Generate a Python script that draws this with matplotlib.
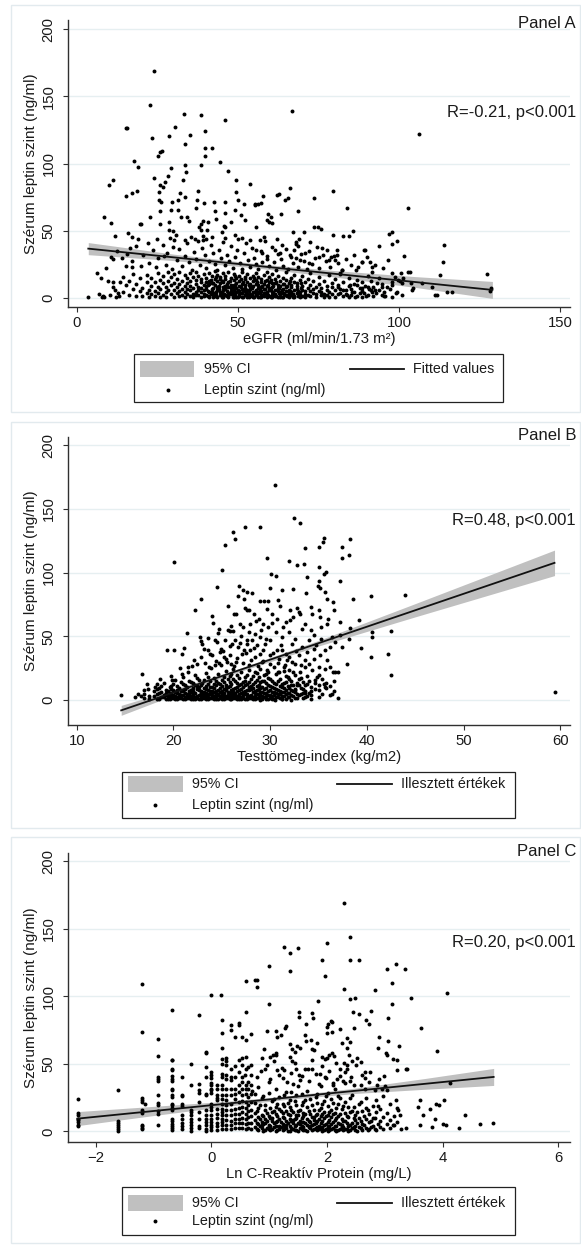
import numpy as np
import matplotlib
matplotlib.use("Agg")
import matplotlib.pyplot as plt
from matplotlib.patches import Rectangle

plt.rcParams["font.family"] = ["Liberation Sans", "DejaVu Sans"]

W, H = 581, 1247

# ---------------- Panel A: eGFR vs szérum leptin ----------------
a_sparse = [
    (23.9, 169), (22.6, 143.7), (15.1, 126.6), (15.4, 126.4), (33.2, 136.6), (38.5, 135.8),
    (45.9, 132.3), (30.3, 126.9), (23.3, 119.2), (28.7, 120.4), (35.0, 120.9), (39.7, 124.4),
    (33.4, 114.5), (26.4, 109.5), (25.8, 108.3), (25.0, 105.6), (39.6, 111.8), (41.9, 111.8),
    (39.8, 105.6), (17.7, 102.1), (18.8, 97.4), (33.4, 98.6), (29.3, 96.9), (38.4, 98.9),
    (44.5, 101.4), (33.9, 93.9), (46.8, 94.2), (9.8, 84.3), (11.1, 87.5), (23.8, 89.0),
    (28.4, 90.7), (27.4, 86.2), (25.7, 84.3), (26.7, 82.8), (32.9, 87.5), (37.5, 79.3),
    (15.1, 76.1), (17.0, 78.1), (18.7, 79.6), (25.6, 78.6), (25.6, 72.9), (26.0, 71.6),
    (32.1, 78.1), (29.5, 71.6), (31.3, 72.9), (33.4, 74.8), (37.4, 72.6), (39.5, 70.4),
    (42.5, 71.1), (45.9, 71.6), (49.5, 88.0), (53.8, 84.8), (49.3, 79.1), (49.9, 72.9),
    (51.9, 70.1), (55.2, 69.1), (56.2, 69.9), (8.3, 60.0), (10.4, 55.8), (11.7, 46.3),
    (22.7, 60.5), (25.8, 64.4), (29.2, 65.4), (31.4, 65.7), (32.3, 60.0), (34.3, 60.0),
    (34.9, 57.2), (36.9, 67.2), (37.9, 53.0), (38.4, 55.0), (39.2, 57.0), (40.6, 56.3),
    (42.9, 64.4), (43.3, 58.7), (45.9, 63.4), (45.8, 53.8), (47.9, 56.3), (49.1, 65.2),
    (50.9, 61.7), (52.1, 58.2), (19.6, 55.0), (19.9, 55.0), (25.7, 54.8), (28.6, 56.8),
    (29.8, 50.1), (30.7, 47.1), (28.5, 50.8), (33.6, 43.4), (35.3, 45.6), (38.6, 50.6),
    (40.4, 50.3), (39.1, 46.1), (40.1, 43.9), (42.0, 45.6), (44.9, 49.1), (45.9, 52.5),
    (49.1, 46.8), (51.3, 44.4), (53.7, 43.1), (55.6, 53.0),
    (66.7, 139.3), (106.1, 121.9), (66.0, 82.0), (62.2, 76.8), (62.7, 77.3), (57.8, 75.8),
    (55.3, 69.9), (57.0, 70.4), (64.6, 72.9), (65.4, 74.1), (73.5, 74.3), (79.6, 79.6),
    (68.6, 64.4), (63.2, 62.2), (59.4, 62.7), (60.1, 60.5), (60.7, 55.5), (59.1, 58.0),
    (59.6, 56.8), (84.0, 66.7), (102.9, 67.2), (73.7, 53.0), (74.9, 52.5), (75.9, 51.1),
    (67.2, 49.3), (70.5, 49.1), (79.4, 46.8), (82.7, 45.8), (84.4, 46.1), (85.6, 49.8),
    (97.0, 47.6), (97.9, 48.8), (99.3, 42.1), (97.7, 40.1), (93.8, 38.9), (101.4, 31.5),
    (114.1, 39.4), (113.7, 27.0), (103.5, 19.6), (112.6, 17.3), (116.4, 4.7), (111.2, 2.0),
    (100.2, 12.9), (104.1, 5.7), (97.2, 6.9), (97.8, 1.0), (94.8, 2.0), (89.1, 3.5),
    (90.6, 6.4), (127.3, 17.8), (128.5, 7.4), (128.2, 5.5),
    (56.7, 43.1), (55.5, 35.7), (57.3, 33.2), (58.9, 28.7), (61.5, 35.7), (63.0, 33.2),
    (63.8, 39.2), (66.2, 32.0), (67.4, 35.7), (68.0, 41.9), (67.9, 29.5), (68.6, 38.7),
    (69.3, 28.3), (70.8, 33.2), (71.9, 25.8), (74.6, 38.2), (75.2, 30.2), (76.3, 32.0),
    (77.5, 35.7), (78.3, 28.3), (79.0, 30.2), (80.1, 28.3), (80.6, 32.0), (80.6, 35.7),
    (81.6, 18.3), (82.4, 20.8), (86.0, 32.0), (87.4, 23.3), (88.4, 27.0), (89.5, 35.7),
    (91.0, 27.0), (91.5, 22.8), (91.7, 19.6), (97.7, 18.3), (98.8, 15.9), (99.8, 13.4),
    (100.8, 10.9), (103.7, 10.9), (104.4, 7.2), (107.0, 10.9), (110.1, 8.4), (111.7, 2.2),
    (115.0, 4.7), (97.7, 9.7), (94.6, 8.4), (93.1, 10.9), (92.5, 5.9), (90.5, 8.4),
    (88.4, 7.2), (86.9, 9.7), (85.3, 4.7), (83.7, 2.2), (82.7, 5.9), (81.2, 8.4),
    (84.8, 9.7), (86.3, 1.0), (89.9, 1.5), (91.5, 4.7), (95.7, 1.5), (99.3, 4.7),
    (100.8, 2.2), (101.3, 14.6), (102.9, 19.6), (89.1, 35.7), (100.5, 18.3),
    (3.5, 1.0), (7.5, 15.1), (8.0, 1.5), (7.7, 0.8), (8.5, 0.6), (11.1, 11.9), (11.1, 8.4),
    (12.1, 1.0), (13.0, 1.7), (9.7, 12.9), (13.5, 11.6), (11.7, 5.7), (15.2, 24.0),
    (17.0, 23.3), (11.1, 28.7), (17.0, 45.0), (15.8, 48.0), (6.8, 3.2), (10.2, 2.4),
    (12.8, 4.0), (9.0, 22.5), (6.2, 18.9), (10.6, 30.6),
    (15.5, 33.0), (17.2, 27.5), (18.4, 38.8), (19.8, 24.1), (20.6, 31.6), (21.9, 41.2),
    (22.5, 26.3), (23.7, 35.5), (24.4, 22.7), (25.3, 29.9), (26.8, 39.4), (27.5, 24.8),
    (28.1, 33.6), (29.4, 21.5), (30.2, 43.0), (31.0, 28.2), (31.8, 36.7), (32.7, 23.9),
    (33.5, 31.4), (34.1, 40.6), (34.9, 26.5), (35.6, 20.8), (36.2, 34.2), (36.9, 29.1),
    (37.7, 42.5), (38.3, 24.3), (38.9, 37.1), (39.6, 31.8), (40.2, 22.1), (40.9, 27.4),
    (41.5, 39.7), (42.1, 33.3), (42.8, 25.6), (43.4, 21.0), (44.0, 36.0), (44.7, 29.7),
    (45.3, 41.8), (45.9, 24.6), (46.6, 32.2), (47.2, 27.8), (47.9, 38.3), (48.5, 22.5),
    (49.2, 30.5), (49.8, 35.4), (50.5, 26.0), (51.1, 21.7), (51.8, 33.8), (52.4, 40.9),
    (53.1, 28.6), (53.7, 23.4), (54.4, 37.5), (55.0, 30.1), (55.7, 25.2), (56.3, 21.3),
    (57.0, 34.9), (57.6, 27.0), (58.3, 42.2), (59.0, 31.0), (59.7, 23.7), (60.4, 38.1),
    (61.1, 26.7), (61.8, 20.5), (62.5, 33.0), (63.2, 29.3), (64.0, 24.0), (64.8, 36.4),
    (65.5, 21.9), (66.3, 30.8), (67.0, 26.1), (67.9, 40.4), (68.7, 23.0), (69.6, 32.4),
    (70.4, 27.2), (71.3, 21.2), (72.1, 35.0), (73.0, 25.5), (74.0, 29.6), (75.1, 22.4),
    (76.2, 37.0), (77.4, 27.7), (78.6, 23.1), (79.9, 31.2), (81.0, 25.9), (82.3, 21.0),
    (83.5, 29.0), (85.0, 24.2), (86.7, 20.9), (88.5, 26.4), (90.2, 30.4), (92.5, 24.8),
    (95.0, 22.0), (96.5, 28.1), (12.4, 34.8), (14.0, 29.4), (16.3, 37.2), (18.9, 44.0),
    (24.9, 43.5), (28.8, 44.6), (27.0, 31.0), (29.9, 38.0), (36.5, 44.2), (39.0, 43.1),
    (46.0, 44.7), (50.1, 43.7), (58.0, 45.5), (62.0, 44.0), (69.0, 43.5), (72.5, 41.5),
]
# low-leptin bulk, grouped by eGFR
a_cols = [
    (14.2, [4.1, 15.8]), (15.3, [9.7]), (16.1, [2.3, 12.5]), (17.4, [6.8, 18.1]),
    (18.2, [1.2, 10.4]), (19.5, [4.9, 14.7]), (20.3, [7.6, 1.8]), (21.6, [11.9, 17.3, 3.5]),
    (22.4, [6.1, 0.9]), (23.1, [9.2, 15.1, 2.7]), (24.3, [5.3, 12.0, 1.3]),
    (25.0, [8.4, 18.8, 3.9]), (25.9, [0.6, 6.9, 13.6]), (26.7, [2.2, 10.8, 16.4]),
    (27.6, [4.6, 8.0, 1.0]), (28.3, [12.8, 6.2, 19.0]), (29.2, [2.9, 9.6, 15.5]),
    (30.1, [0.8, 5.7, 11.3, 17.8]), (30.9, [3.4, 7.9, 14.2]), (31.7, [1.6, 10.1, 19.6, 5.0]),
    (32.5, [6.6, 12.9, 2.4]), (33.4, [0.5, 8.8, 16.9, 4.3]), (34.2, [3.0, 11.2, 6.9, 14.8]),
    (35.1, [1.4, 9.1, 5.6, 18.3, 12.4]), (35.9, [2.8, 7.2, 15.9, 0.7]),
    (36.8, [4.7, 10.6, 13.5, 1.9, 19.2]), (37.6, [6.0, 8.5, 2.3, 16.6]),
    (38.5, [0.9, 11.8, 4.2, 14.1, 7.5]), (39.3, [3.1, 9.9, 17.5, 5.8, 1.2]),
    (40.2, [6.4, 12.2, 2.0, 15.2, 8.7]), (41.0, [0.6, 4.4, 10.3, 18.6, 13.0]),
    (41.9, [7.0, 2.6, 16.0, 5.1, 11.0]), (42.7, [1.5, 9.4, 14.4, 3.7, 19.8]),
    (43.6, [6.3, 12.6, 0.8, 8.1, 17.1]), (44.4, [2.1, 4.8, 10.9, 15.6, 13.8]),
    (45.3, [7.8, 1.0, 5.9, 11.6, 18.9, 3.2]), (46.1, [9.0, 14.0, 2.5, 6.7, 16.3]),
    (47.0, [0.7, 4.0, 12.1, 8.3, 19.4, 1.8]), (47.8, [5.4, 10.0, 15.0, 3.0, 7.2]),
    (48.7, [1.1, 13.3, 6.0, 17.6, 9.8, 2.6]), (49.5, [4.5, 11.4, 0.5, 7.7, 14.7]),
    (50.4, [2.9, 8.9, 16.7, 5.2, 12.3, 1.4]), (51.2, [6.8, 3.6, 10.5, 19.0, 0.9]),
    (52.1, [1.9, 9.3, 13.9, 4.9, 7.4, 15.8]), (52.9, [0.6, 5.8, 11.7, 2.8, 17.9]),
    (53.8, [8.0, 3.3, 14.5, 6.5, 1.2, 10.2]), (54.6, [4.2, 12.9, 0.8, 8.6, 16.2]),
    (55.5, [2.2, 6.1, 10.7, 18.4, 3.9, 13.2]), (56.3, [1.0, 7.3, 4.6, 15.3, 9.5]),
    (57.2, [5.5, 2.4, 11.9, 0.7, 8.2, 14.0]), (58.0, [3.4, 6.9, 17.0, 1.6, 10.4]),
    (58.9, [0.5, 4.8, 9.1, 13.6, 2.9, 19.3]), (59.7, [7.6, 1.3, 5.7, 12.0, 15.7]),
    (60.6, [2.0, 10.8, 4.1, 8.4, 18.0, 0.9]), (61.4, [6.3, 3.0, 14.3, 1.5, 11.3]),
    (62.3, [0.6, 5.0, 9.7, 16.5, 7.1]), (63.1, [2.7, 12.7, 4.4, 1.1, 8.9]),
    (64.0, [6.7, 3.6, 10.1, 15.0, 0.8]), (64.8, [1.9, 5.3, 13.1, 8.0, 19.5]),
    (65.7, [4.0, 0.7, 11.0, 6.2, 2.8]), (66.5, [7.9, 2.1, 14.8, 9.3, 4.7]),
    (67.4, [1.3, 5.9, 12.2, 0.5, 17.2]), (68.2, [3.5, 8.6, 6.6, 10.9]),
    (69.1, [0.9, 4.3, 13.7, 2.3]), (69.9, [6.0, 1.7, 9.0, 16.0]), (70.8, [3.0, 11.6, 5.2, 0.6]),
    (71.6, [7.3, 2.5, 14.1]), (72.5, [1.2, 4.9, 9.6, 18.7]), (73.3, [3.8, 6.8, 12.4]),
    (74.2, [0.8, 8.1, 2.9]), (75.0, [5.4, 10.6, 15.4]), (75.9, [1.9, 4.1, 7.7]),
    (76.7, [0.6, 12.8, 3.3]), (77.6, [6.1, 9.2, 2.0]), (78.4, [4.4, 16.8, 1.0]),
    (79.3, [7.8, 3.0, 11.1]), (80.1, [0.9, 5.6, 13.9]), (81.0, [2.6, 9.4]),
    (81.8, [4.0, 7.0, 18.2]), (82.7, [1.3, 12.0]), (83.5, [5.8, 3.1]), (84.4, [0.7, 8.8, 15.1]),
    (85.2, [2.4, 6.4]), (86.1, [10.3, 4.5]), (86.9, [1.5, 13.3]), (87.8, [7.5, 3.6]),
    (88.6, [0.8, 11.8, 5.0]), (89.5, [9.0]), (90.3, [2.3, 16.2]), (91.2, [5.7, 12.8]),
    (92.0, [1.2, 8.0]), (92.9, [3.9]), (93.7, [14.5, 6.3]), (94.6, [10.6]), (95.4, [4.6, 1.7]),
    (96.3, [7.9]), (97.9, [12.2]), (99.0, [3.4]),
    (40.6, [1.7, 9.5, 5.2]), (41.5, [3.0, 13.6]), (42.3, [0.5, 7.7, 11.4]),
    (43.2, [4.2, 2.1, 15.9]), (44.0, [6.9, 9.2]), (44.9, [0.8, 12.8, 4.6]), (45.7, [2.9, 8.2]),
    (46.6, [5.0, 10.7, 1.2]), (47.4, [3.5, 13.0]), (48.3, [0.6, 7.9, 4.0]),
    (49.1, [2.5, 9.7, 16.0]), (50.0, [5.6, 1.0]), (50.8, [3.8, 8.0, 14.2]),
    (51.7, [0.7, 6.0, 11.9]), (52.5, [2.8, 4.0]), (53.4, [9.7, 0.5, 5.3]), (54.2, [2.4, 7.2]),
    (55.1, [0.9, 4.7, 14.7]), (55.9, [2.8, 11.6]), (56.8, [6.2, 0.6, 3.6]), (57.6, [9.0, 1.9]),
    (58.5, [4.0, 12.6, 7.0]), (59.3, [2.5, 10.0]), (60.2, [0.6, 6.0, 13.3]), (61.0, [3.8, 8.7]),
    (61.9, [1.6, 11.9]), (62.7, [4.0, 7.6]), (63.6, [0.5, 5.8]), (64.4, [3.0, 10.4]),
    (65.2, [1.2, 8.6]), (66.1, [5.3, 12.6]), (67.0, [3.1, 0.8]), (68.6, [1.8, 5.0]),
    (69.5, [7.6, 11.5]),
]
a_fit_x = [3.5, 129.0]
a_fit_y = [36.7, 6.0]
a_ci_x = [3.5, 30, 55, 80, 105, 129]
a_ci_lo = [32.2, 27.8, 22.5, 15.6, 7.9, -0.3]
a_ci_hi = [41.2, 32.6, 25.7, 20.4, 15.9, 12.3]

# ---------------- Panel B: testtömeg-index vs leptin ----------------
b_sparse = [
    (14.6, 3.7), (16.7, 20.7), (20.1, 108.5), (27.4, 136.0), (26.2, 131.8), (26.4, 126.3),
    (25.3, 121.8), (25.0, 101.7), (24.5, 88.4), (22.9, 79.2), (22.2, 70.8), (21.4, 52.8),
    (22.7, 49.4), (22.8, 46.3), (19.3, 39.0), (20.1, 39.0), (20.9, 35.8), (21.1, 41.0),
    (24.1, 60.7), (24.7, 55.4), (26.8, 89.9), (27.2, 86.5), (26.7, 81.6), (27.3, 79.2),
    (27.4, 72.4), (27.6, 70.3), (26.3, 67.2), (26.5, 67.2), (25.6, 54.6), (25.9, 54.1),
    (26.2, 53.9), (26.9, 59.9), (27.2, 57.3), (18.6, 16.7), (17.3, 12.3), (17.4, 8.9),
    (16.6, 3.1), (17.0, 5.0), (18.1, 10.2), (18.3, 12.3), (19.8, 18.6), (19.9, 15.9),
    (20.7, 24.8), (20.9, 20.7), (21.5, 25.9), (21.5, 22.0), (22.1, 31.1), (22.4, 28.5),
    (23.0, 44.2), (23.2, 40.0), (23.6, 39.0), (23.8, 36.3), (24.3, 47.3), (24.5, 45.5),
    (24.9, 40.3), (24.8, 37.6), (25.2, 33.7), (25.4, 32.4), (25.8, 42.4), (26.1, 43.7),
    (26.4, 46.8), (26.7, 41.6), (27.0, 49.9), (27.1, 36.3), (27.3, 39.0), (27.6, 46.8),
    (23.9, 25.1), (24.3, 27.7), (24.7, 29.3), (26.0, 28.5), (26.5, 29.8),
    (30.5, 168.9), (32.5, 143.3), (33.1, 138.8), (29.0, 136.2), (35.6, 127.1), (35.5, 123.7),
    (35.1, 120.0), (33.6, 119.0), (38.3, 126.3), (38.2, 114.2), (37.4, 120.5), (37.4, 111.6),
    (32.0, 109.5), (32.8, 105.9), (33.5, 106.9), (29.7, 111.6), (35.1, 104.8), (30.1, 98.6),
    (30.6, 97.5), (35.8, 100.7), (35.6, 99.1), (33.8, 96.5), (37.2, 93.3), (35.1, 93.3),
    (34.9, 89.4), (35.2, 88.1), (32.4, 87.1), (31.2, 86.0), (30.0, 88.1), (33.7, 83.9),
    (35.7, 84.7), (35.9, 79.5), (38.6, 79.5), (40.4, 81.8), (43.9, 82.1), (27.6, 85.2),
    (28.1, 84.4), (29.0, 77.9), (29.4, 77.4), (29.8, 77.4), (30.8, 78.2), (32.8, 72.4),
    (33.0, 69.0), (34.2, 72.9), (34.3, 67.2), (35.0, 70.3), (36.5, 76.9), (36.6, 70.3),
    (39.2, 63.0), (37.2, 60.9), (38.3, 56.7), (35.9, 59.9), (40.5, 53.1), (40.5, 49.4),
    (42.5, 54.1), (42.5, 19.6), (42.2, 36.3), (40.4, 34.0), (39.4, 41.0), (38.2, 48.1),
    (37.9, 28.5), (36.5, 22.0), (36.4, 4.7), (34.2, 1.0), (35.7, 10.2), (35.6, 12.8),
    (36.7, 22.0), (37.0, 22.0), (35.1, 19.3), (34.8, 18.0), (33.6, 5.5), (32.6, 7.6),
    (32.8, 11.5), (31.2, 0.5), (32.2, 0.3), (28.9, 0.3), (30.5, 0.3), (59.4, 6.0),
    (29.7, 71.1), (30.2, 67.7), (30.7, 63.8), (31.0, 74.2), (31.6, 61.2), (32.1, 70.3),
    (32.4, 65.1), (33.1, 67.7), (33.3, 55.9), (33.6, 59.9), (34.2, 54.6), (34.5, 50.7),
    (35.2, 65.1), (35.3, 57.3), (36.0, 63.8), (36.4, 49.4), (36.7, 45.5), (37.2, 50.7),
    (37.4, 41.6), (36.2, 41.6), (35.7, 39.0), (35.3, 48.1), (34.7, 42.9), (34.0, 46.8),
    (33.3, 41.6), (32.6, 48.1), (31.9, 53.3), (31.2, 49.4), (30.6, 53.3), (29.8, 57.3),
    (29.3, 59.9), (28.8, 63.8), (28.3, 67.7), (27.8, 70.3), (27.9, 59.9), (28.4, 52.0),
    (28.9, 49.4), (29.5, 44.2), (30.0, 46.8), (30.7, 39.0), (31.6, 36.3), (32.3, 44.2),
    (33.0, 35.0), (33.8, 37.6), (34.5, 32.4), (35.2, 35.0), (35.9, 31.1), (36.2, 25.9),
    (35.7, 24.6), (35.0, 25.9), (34.3, 23.3), (33.6, 25.9), (33.1, 22.0), (32.6, 28.5),
    (31.9, 23.3), (31.4, 25.9), (30.9, 22.0), (30.4, 25.9), (29.7, 23.3), (29.2, 29.8),
    (28.4, 33.7), (27.9, 39.0), (27.6, 44.2), (28.1, 46.8), (28.6, 42.9), (29.3, 39.0),
    (30.0, 35.0), (30.9, 32.4), (31.7, 31.1), (31.2, 39.0),
    (21.9, 27.0), (22.8, 33.5), (23.3, 29.0), (23.7, 26.0), (24.0, 35.1), (24.4, 31.0),
    (24.9, 27.3), (25.1, 38.2), (25.5, 30.0), (25.9, 35.5), (26.3, 26.6), (26.6, 33.0),
    (26.9, 44.8), (27.2, 29.4), (27.5, 37.0), (27.8, 27.8), (28.0, 31.6), (28.3, 41.0),
    (28.7, 26.7), (29.0, 35.8), (29.3, 30.4), (29.6, 48.0), (30.0, 28.0), (30.3, 36.8),
    (30.8, 29.2), (31.1, 43.5), (31.5, 27.5), (31.9, 34.0), (32.3, 29.8), (32.7, 38.5),
    (33.2, 27.2), (33.6, 31.7), (34.0, 28.0), (34.5, 39.8), (24.6, 52.4), (25.3, 47.5),
    (26.0, 57.8), (27.8, 53.6), (28.5, 62.0), (29.1, 55.0), (30.2, 60.1), (31.3, 57.0),
    (32.1, 62.8), (24.0, 66.0), (25.6, 73.5), (23.6, 48.5),
]
b_cols = [
    (16.0, [2.0]), (16.3, [4.5]), (17.0, [1.4, 8.0]), (17.5, [3.0, 0.8]),
    (18.0, [3.2, 7.1]), (18.5, [1.1, 5.6, 9.8]), (19.0, [2.4, 4.0, 13.2]), (19.4, [0.6, 6.7, 3.5]),
    (19.8, [1.8, 8.9, 11.4, 4.7]), (20.2, [0.9, 3.0, 6.1, 15.6]), (20.6, [2.2, 5.0, 9.3, 1.3]),
    (21.0, [0.5, 3.9, 7.4, 12.6, 17.9]), (21.4, [1.6, 4.6, 10.2, 2.8]),
    (21.8, [0.8, 6.3, 8.1, 14.3, 3.4]), (22.2, [2.0, 5.2, 11.8, 1.0, 19.4]),
    (22.6, [0.6, 3.7, 7.8, 9.9, 16.1]), (23.0, [1.4, 4.3, 6.6, 13.0, 2.6]),
    (23.4, [0.7, 3.1, 8.7, 11.0, 5.5, 21.2]), (23.8, [1.9, 4.9, 7.2, 14.8, 10.0]),
    (24.2, [0.5, 2.9, 6.0, 9.1, 17.3, 12.4]), (24.6, [1.2, 3.8, 5.1, 8.0, 13.7, 20.3]),
    (25.0, [0.8, 2.5, 6.9, 10.8, 4.4, 15.9]), (25.4, [1.7, 3.3, 7.7, 12.1, 9.4, 22.6]),
    (25.8, [0.6, 5.7, 2.1, 11.3, 18.6, 14.0]), (26.2, [1.5, 4.0, 8.4, 6.3, 16.8, 24.0]),
    (26.6, [0.9, 3.0, 10.4, 7.1, 13.1, 19.7]), (27.0, [2.3, 5.3, 9.0, 12.7, 1.0, 21.8]),
    (27.4, [0.7, 4.6, 6.8, 15.3, 11.5, 17.9]), (27.8, [1.8, 3.5, 8.2, 10.1, 14.2, 23.5]),
    (28.2, [0.5, 2.7, 6.0, 12.3, 18.8, 9.6]), (28.6, [1.3, 5.0, 7.9, 16.0, 11.0, 21.0]),
    (29.0, [3.9, 0.8, 9.7, 13.9, 6.6, 24.7]), (29.4, [2.2, 5.8, 8.8, 15.0, 19.3]),
    (29.8, [1.0, 4.2, 11.9, 7.3, 17.0, 22.2]), (30.2, [3.1, 6.4, 10.5, 14.6, 0.6]),
    (30.6, [2.0, 5.4, 8.6, 12.8, 20.5]), (31.0, [4.5, 7.0, 16.5, 1.5, 11.2]),
    (31.4, [3.3, 9.5, 13.4, 6.0, 23.0]), (31.8, [2.6, 5.2, 10.9, 18.1]),
    (32.2, [4.0, 7.8, 14.9, 12.0]), (32.6, [1.9, 9.0, 6.2, 20.0]), (33.0, [3.6, 11.6, 16.3]),
    (33.4, [5.9, 8.3, 14.1, 1.4]), (33.8, [2.9, 12.5, 18.9]), (34.2, [6.7, 10.0, 4.2]),
    (34.6, [8.9, 15.5, 13.0]), (35.0, [2.5, 7.5, 11.8]), (35.4, [5.0, 16.9]),
    (35.8, [9.2, 13.6]), (36.2, [3.8, 11.0]), (36.6, [7.0, 15.0]), (37.0, [1.6]),
    (18.25, [0.9, 4.4, 8.6]), (18.75, [2.7, 6.2, 11.0]), (19.2, [1.0, 5.3, 8.0, 3.6]),
    (19.6, [2.5, 10.1, 0.7, 5.9]), (20.0, [1.4, 4.2, 7.7, 12.8, 3.1]),
    (20.4, [0.5, 2.6, 5.6, 10.7, 8.1]), (20.8, [1.8, 4.0, 6.8, 14.4, 3.2]),
    (21.2, [0.7, 2.4, 5.9, 9.0, 11.6]), (21.6, [1.3, 3.7, 7.2, 15.2, 5.0]),
    (22.0, [0.6, 2.9, 4.5, 9.6, 13.4, 6.9]), (22.4, [1.7, 3.4, 8.4, 11.2, 17.0]),
    (22.8, [0.9, 2.3, 5.8, 12.0, 7.0]), (23.2, [1.5, 3.9, 6.2, 9.5, 15.9]),
    (23.6, [0.5, 2.6, 4.8, 8.0, 12.7, 18.4]), (24.0, [1.3, 3.4, 5.7, 10.6, 7.4]),
    (24.4, [0.8, 2.2, 4.5, 7.0, 15.0, 11.5]), (24.8, [1.9, 3.1, 6.3, 9.7, 12.9]),
    (25.2, [0.6, 2.8, 5.5, 8.5, 14.5, 18.0]), (25.6, [1.3, 4.1, 6.0, 10.0, 16.6]),
    (26.0, [0.9, 2.4, 4.8, 7.5, 12.9, 20.8]), (26.4, [1.9, 3.6, 5.9, 9.8, 14.8]),
    (26.8, [0.5, 2.7, 4.4, 8.0, 11.8, 17.2]), (27.2, [1.4, 3.6, 6.1, 10.6, 14.0]),
    (27.6, [0.8, 2.5, 5.0, 7.5, 12.9, 19.8]), (28.0, [1.5, 4.0, 9.0, 11.4, 16.5]),
    (28.4, [0.6, 3.3, 5.6, 7.1, 13.9, 22.4]), (28.8, [2.0, 4.4, 8.4, 12.0, 18.0]),
    (29.2, [1.0, 3.0, 6.5, 10.5, 14.6]), (29.6, [0.6, 2.8, 5.2, 9.3, 13.0, 20.6]),
    (30.0, [1.8, 4.0, 7.6, 11.2, 16.9]), (30.4, [0.9, 3.7, 6.0, 9.8, 13.5]),
    (30.8, [2.5, 4.9, 8.1, 15.2, 21.8]), (31.2, [1.2, 3.0, 6.6, 10.2, 12.5]),
    (31.6, [0.7, 4.6, 8.2, 14.2, 19.0]), (32.0, [2.0, 5.6, 9.6, 16.8]),
    (32.4, [3.1, 7.3, 11.8, 22.0]), (32.8, [1.5, 5.0, 13.7]), (33.2, [4.4, 9.8, 17.5]),
    (33.6, [2.3, 7.0, 12.0]), (34.0, [5.2, 14.6]),
]
b_fit_x = [14.6, 59.4]
b_fit_y = [-8.1, 107.7]
b_ci_x = [14.6, 20, 27, 35, 45, 59.4]
b_ci_lo = [-12.0, 3.7, 22.7, 42.4, 65.3, 97.7]
b_ci_hi = [-4.2, 8.1, 25.3, 46.8, 75.7, 117.7]

# ---------------- Panel C: ln CRP vs leptin ----------------
c_sparse = [
    (-1.15, 20.5), (0.17, 101.0), (0.75, 112.0),
    (2.29, 169.3), (2.40, 143.6), (1.26, 136.6), (1.36, 132.4), (1.49, 136.1), (2.00, 139.4),
    (1.91, 126.7), (2.39, 126.7), (2.56, 126.7), (1.00, 122.3), (1.35, 119.1), (1.96, 114.9),
    (3.03, 120.3), (3.19, 124.3), (3.35, 120.5), (0.78, 111.9), (0.78, 106.9), (3.13, 109.9),
    (2.83, 105.0), (2.30, 105.7), (2.40, 98.0), (2.48, 98.5), (1.85, 96.8), (3.45, 99.0),
    (4.08, 102.2), (1.00, 94.1), (3.13, 94.1), (1.51, 88.4), (1.51, 84.4), (1.74, 87.6),
    (1.75, 84.2), (2.76, 89.4), (2.45, 88.1), (2.55, 86.6), (2.67, 82.7), (2.73, 79.5),
    (3.06, 84.2), (2.06, 81.9), (2.01, 79.7), (1.99, 73.0), (3.62, 76.2), (3.90, 59.4),
    (0.96, 74.5), (1.11, 74.3), (1.13, 70.0), (1.21, 71.3), (1.29, 78.2), (1.27, 76.2),
    (1.63, 79.2), (2.22, 75.5), (2.08, 73.3), (1.99, 54.5), (2.47, 76.2), (2.89, 70.0),
    (3.06, 67.1), (2.88, 62.1), (3.02, 58.4), (3.25, 63.1), (3.37, 46.5), (0.88, 54.0),
    (0.91, 60.9), (1.06, 56.9), (1.35, 64.6), (1.40, 60.9), (1.48, 63.4), (1.54, 61.9),
    (1.61, 71.3), (1.64, 66.8), (1.73, 67.6), (1.74, 60.9), (1.36, 55.4), (1.40, 52.2),
    (1.11, 56.4), (1.02, 55.0), (0.93, 46.5), (1.13, 45.3), (1.25, 45.3), (1.47, 46.5),
    (1.51, 41.6), (1.67, 46.5), (1.74, 46.0), (1.92, 55.0), (1.97, 53.5), (2.03, 56.9),
    (2.08, 58.4), (2.12, 55.7), (2.26, 65.1), (2.34, 61.4), (2.29, 50.7), (2.34, 49.0),
    (2.38, 56.4), (2.43, 52.0), (2.52, 54.5), (2.59, 51.5), (2.66, 44.1), (2.60, 41.6),
    (2.34, 69.3), (2.40, 66.3), (2.00, 77.0), (2.08, 81.2), (3.03, 56.4), (3.14, 53.5),
    (3.21, 52.7), (2.99, 41.1), (3.21, 45.3), (1.82, 65.1), (1.77, 60.1), (2.11, 34.2),
    (2.17, 39.1), (1.88, 42.8), (1.97, 40.3), (2.23, 46.5), (2.31, 43.6), (2.40, 37.6),
    (2.46, 34.2), (2.66, 31.7), (2.72, 36.6), (2.86, 34.2), (2.95, 31.7), (3.03, 30.4),
    (3.61, 23.0), (3.88, 20.5), (3.78, 16.8), (3.86, 9.4), (4.13, 35.9), (4.02, 23.0),
    (3.94, 19.3), (3.58, 18.0), (3.65, 11.9), (4.00, 5.6), (4.05, 4.6), (4.28, 2.2),
    (4.38, 11.9), (4.64, 5.7), (4.86, 6.2), (3.81, 3.2), (3.61, 4.4), (3.36, 2.2),
    (3.38, 46.5), (3.20, 23.0), (3.23, 15.6), (3.26, 11.9), (3.14, 4.4),
    (0.78, 40.2), (0.85, 44.8), (0.96, 49.0), (1.02, 38.6), (1.08, 52.3), (1.16, 41.7),
    (1.22, 47.2), (1.30, 36.4), (1.38, 43.1), (1.44, 50.6), (1.50, 33.8), (1.56, 40.7),
    (1.62, 46.0), (1.68, 37.2), (1.74, 52.8), (1.80, 42.4), (1.86, 35.2), (1.92, 48.1),
    (1.98, 39.6), (2.04, 44.9), (2.10, 36.0), (2.16, 50.5), (2.22, 41.0), (2.28, 37.5),
    (2.34, 46.3), (2.42, 40.0), (2.50, 48.8), (2.58, 34.5), (2.66, 39.7), (2.74, 44.0),
    (2.82, 30.3), (2.90, 38.8), (3.00, 33.6), (1.12, 57.8), (1.45, 58.6), (0.70, 30.0),
    (0.64, 48.0), (0.58, 42.0),
]
# CRP is reported in 0.1 mg/L steps, so low values stack in columns
c_cols = [
    (-2.30, [24.3, 13.6, 11.9, 9.5, 8.2, 6.9, 5.0, 4.0]),
    (-1.61, [30.4, 7.7, 5.9, 4.5, 3.0, 1.5, 0.5]),
    (-1.20, [108.9, 73.3, 25.0, 23.0, 21.8, 15.6, 13.9, 5.0, 4.0, 2.5, 1.5]),
    (-0.92, [68.1, 55.7, 40.3, 38.9, 37.1, 27.2, 21.3, 19.3, 14.9, 12.9, 5.0]),
    (-0.69, [90.1, 53.2, 52.5, 46.0, 45.3, 40.8, 39.1, 37.6, 31.7, 30.4, 27.2, 25.5, 20.5,
             19.3, 17.3, 15.6, 9.4, 7.7, 5.7, 4.0, 2.5, 1.0]),
    (-0.51, [39.9, 27.2, 26.0, 20.5, 18.8, 11.9, 9.0, 6.5, 4.0, 1.5]),
    (-0.36, [50.2, 34.2, 16.1, 14.4, 11.9, 9.4, 7.2, 5.0, 2.7, 0.5]),
    (-0.22, [86.1, 35.4, 30.4, 28.7, 21.8, 14.4, 9.4, 4.0, 2.5]),
    (-0.10, [58.9, 58.4, 47.8, 40.3, 28.0, 26.7, 15.6, 12.0, 9.4, 6.9, 4.5, 2.0, 0.5]),
    (0.00, [101.0, 44.1, 41.6, 39.6, 35.9, 34.2, 31.7, 30.4, 28.7, 20.5, 18.0, 15.6, 12.0,
            9.4, 7.2, 5.0, 3.0, 1.0]),
    (0.10, [34.2, 31.7, 26.7, 24.8, 23.0, 16.8, 12.9, 9.8, 6.5, 3.7, 1.2]),
    (0.18, [82.4, 73.0, 61.9, 53.5, 50.2, 42.8, 40.3, 34.2, 31.7, 26.7, 23.8, 20.5, 16.8,
            14.4, 11.9, 9.4, 6.9, 4.5, 2.0]),
    (0.26, [54.5, 52.0, 49.5, 41.6, 39.1, 31.7, 27.0, 23.0, 19.3, 15.6, 12.0, 8.4, 5.0, 2.0]),
    (0.34, [78.7, 75.0, 46.5, 40.3, 37.9, 31.7, 26.7, 20.5, 16.1, 11.9, 8.0, 4.5, 1.5]),
    (0.40, [70.0, 48.3, 40.3, 31.7, 28.0, 24.3, 16.8, 13.1, 9.4, 6.0, 2.5]),
    (0.47, [80.0, 78.7, 52.7, 44.1, 34.2, 29.2, 21.8, 17.3, 13.1, 9.4, 5.9, 2.2]),
    (0.53, [70.0, 54.0, 49.5, 40.3, 36.6, 31.7, 27.0, 22.3, 18.0, 14.0, 10.0, 6.0, 2.5]),
    (0.59, [111.6, 88.6, 67.6, 55.2, 46.5, 34.2, 31.7, 28.0, 21.8, 17.3, 13.1, 9.4, 5.5, 1.5]),
    (0.64, [36.6, 31.7, 25.5, 19.3, 15.0, 10.5, 6.5, 2.5]),
    (0.69, [71.8, 49.0, 41.6, 34.2, 28.0, 22.0, 16.0, 11.0, 6.0, 1.5]),
    (0.75, [3.5, 8.2, 13.9, 21.0, 27.5]), (0.81, [1.2, 5.8, 10.6, 17.2, 33.0]),
    (0.87, [2.4, 7.0, 12.3, 24.8, 4.5]), (0.93, [0.8, 9.5, 15.8, 19.6, 6.1]),
    (0.99, [3.0, 5.0, 11.4, 28.2, 1.6, 36.5]), (1.05, [2.1, 7.8, 14.0, 22.4, 9.9]),
    (1.11, [0.5, 4.2, 12.6, 18.1, 31.0, 6.6]), (1.17, [1.7, 8.9, 16.4, 25.7, 3.6]),
    (1.23, [0.9, 5.4, 10.7, 13.3, 20.2, 39.5]), (1.29, [2.8, 7.3, 15.1, 29.0, 4.8]),
    (1.35, [0.6, 3.9, 9.2, 11.8, 23.5, 17.7]), (1.41, [1.9, 6.0, 14.6, 34.8, 8.3]),
    (1.47, [0.7, 4.6, 10.0, 19.2, 26.6, 12.4]), (1.53, [2.6, 5.7, 8.0, 16.0, 38.0]),
    (1.59, [1.1, 3.4, 11.1, 21.9, 7.0, 13.7]), (1.65, [0.5, 4.9, 9.1, 17.9, 30.2]),
    (1.71, [2.2, 6.7, 12.9, 24.3, 3.7]), (1.77, [1.4, 8.6, 15.5, 10.3, 5.3]),
    (1.83, [0.8, 3.1, 7.6, 20.8, 27.9, 13.0]), (1.89, [2.5, 5.9, 11.7, 17.0, 33.9]),
    (1.95, [1.0, 4.4, 9.7, 14.3, 22.7]), (2.01, [0.6, 3.3, 6.9, 18.5, 28.6, 12.1]),
    (2.07, [2.0, 5.1, 10.4, 15.9, 24.0]), (2.13, [1.3, 8.1, 13.5, 4.0, 31.7]),
    (2.19, [0.7, 6.3, 11.0, 19.9, 26.2]), (2.25, [2.9, 4.7, 9.0, 16.6]),
    (2.31, [1.5, 7.4, 13.8, 22.0, 35.5]), (2.37, [0.5, 3.8, 10.9, 18.3]),
    (2.43, [2.3, 6.5, 15.2, 27.0]), (2.49, [1.1, 4.3, 8.7, 12.2]), (2.55, [3.2, 20.4, 10.1]),
    (2.61, [0.9, 5.6, 14.7]), (2.67, [2.7, 9.3, 17.5, 24.5]), (2.73, [1.6, 6.8, 12.8]),
    (2.79, [4.1, 19.0, 9.8]), (2.85, [0.7, 14.0, 22.9]), (2.91, [3.5, 7.7, 16.7]),
    (2.97, [10.8, 1.9, 26.0]), (3.03, [5.2, 13.6]), (3.09, [8.5, 2.6, 20.0]),
    (3.15, [11.3, 4.8]), (3.21, [7.1, 17.2]), (3.27, [1.4]),
    (0.78, [1.9, 6.5, 15.0]), (0.84, [3.8, 9.0, 19.5]), (0.90, [0.6, 5.2, 11.0, 26.0]),
    (0.96, [2.2, 7.5, 13.5]), (1.02, [4.0, 10.2, 17.0, 1.0]), (1.08, [2.9, 6.0, 15.4, 24.0]),
    (1.14, [1.0, 8.0, 11.5, 20.0]), (1.20, [3.3, 6.9, 14.8]),
    (1.26, [1.6, 4.0, 9.8, 18.6, 26.8]), (1.32, [0.6, 5.9, 12.8, 21.2]),
    (1.38, [2.7, 7.6, 15.9, 29.5]), (1.44, [1.2, 3.6, 9.0, 22.6]),
    (1.50, [0.5, 6.4, 11.9, 14.9]), (1.56, [2.0, 4.2, 9.6, 19.4, 27.5]),
    (1.62, [1.0, 5.9, 12.7, 23.1]), (1.68, [3.0, 7.8, 15.0]), (1.74, [0.7, 4.6, 10.8, 19.8]),
    (1.80, [2.3, 6.4, 12.0, 25.2]), (1.86, [1.4, 4.2, 8.9, 16.1]),
    (1.92, [0.6, 3.5, 7.4, 13.1, 20.5]), (1.98, [2.0, 5.7, 11.0, 26.5]),
    (2.04, [1.0, 4.3, 8.4, 14.5]), (2.10, [2.6, 6.6, 12.8, 21.0]),
    (2.16, [0.5, 3.8, 9.8, 17.1]), (2.22, [1.9, 5.3, 13.0, 24.8]),
    (2.28, [0.8, 3.2, 8.0, 19.0]), (2.34, [2.1, 5.9, 11.5]), (2.40, [1.2, 4.5, 14.0, 25.0]),
    (2.46, [3.0, 9.6, 18.0]), (2.52, [0.6, 6.1, 14.2]), (2.58, [2.3, 8.0, 22.0]),
    (2.64, [4.5, 11.6]), (2.70, [1.0, 15.9]), (2.76, [3.4, 7.6]), (2.82, [10.0, 2.0]),
    (2.88, [5.5, 18.8]),
]
c_fit_x = [-2.32, 4.88]
c_fit_y = [9.4, 40.3]
c_ci_x = [-2.32, -1.0, 0.3, 1.3, 2.5, 3.7, 4.88]
c_ci_lo = [4.2, 11.7, 18.8, 23.6, 28.1, 31.2, 34.0]
c_ci_hi = [14.6, 18.5, 22.4, 26.2, 32.1, 39.2, 46.6]


def collect(sparse, cols):
    xs = [p[0] for p in sparse] + [x for x, ys in cols for _ in ys]
    ys = [p[1] for p in sparse] + [y for _, ys in cols for y in ys]
    return np.array(xs), np.array(ys)


def rect(x0, y0, x1, y1):
    # pixel box -> figure fraction
    return [x0 / W, 1 - y1 / H, (x1 - x0) / W, (y1 - y0) / H]


fig = plt.figure(figsize=(W / 100, H / 100), dpi=100)
fig.patch.set_facecolor("white")

panels = [
    dict(box=(68, 20, 570, 307), data=collect(a_sparse, a_cols), xlim=(-2.8, 153.1),
         ylim=(-6.7, 206.7), xticks=[0, 50, 100, 150], fit=(a_fit_x, a_fit_y),
         ci=(a_ci_x, a_ci_lo, a_ci_hi), xlabel="eGFR (ml/min/1.73 m²)"),
    dict(box=(68, 437, 570, 725), data=collect(b_sparse, b_cols), xlim=(9.1, 61.0),
         ylim=(-19.6, 206.5), xticks=[10, 20, 30, 40, 50, 60], fit=(b_fit_x, b_fit_y),
         ci=(b_ci_x, b_ci_lo, b_ci_hi), xlabel="Testtömeg-index (kg/m2)"),
    dict(box=(68, 853, 570, 1142), data=collect(c_sparse, c_cols), xlim=(-2.48, 6.2),
         ylim=(-7.9, 206.2), xticks=[-2, 0, 2, 4, 6], fit=(c_fit_x, c_fit_y),
         ci=(c_ci_x, c_ci_lo, c_ci_hi), xlabel="Ln C-Reaktív Protein (mg/L)"),
]

DOT = 8

for p in panels:
    ax = fig.add_axes(rect(*p["box"]))
    ax.set_facecolor("none")
    cx, lo, hi = p["ci"]
    ax.fill_between(cx, lo, hi, color="#c0c0c0", lw=0, zorder=2)
    ax.scatter(*p["data"], s=DOT, color="black", lw=0, zorder=3)
    ax.plot(*p["fit"], color="#111111", lw=1.3, zorder=4)
    ax.set_xlim(*p["xlim"])
    ax.set_ylim(*p["ylim"])
    ax.set_xticks(p["xticks"])
    ax.set_yticks([0, 50, 100, 150, 200])
    ax.yaxis.grid(True, color="#e6eff1", lw=1.0)
    ax.set_axisbelow(True)
    for s in ("top", "right"):
        ax.spines[s].set_visible(False)
    for s in ("left", "bottom"):
        ax.spines[s].set_color("#303030")
        ax.spines[s].set_linewidth(1.0)
    ax.tick_params(axis="both", length=3.5, width=0.8, color="#303030",
                   labelsize=10.7, labelcolor="#1a1a1a")
    ax.tick_params(axis="x", pad=3)
    ax.tick_params(axis="y", pad=5.5)
    for lab in ax.get_yticklabels():
        lab.set_rotation(90)
        lab.set_va("center")
    ax.set_xlabel(p["xlabel"], fontsize=10.7, color="#1a1a1a", labelpad=1.5)

# overlay in pixel coordinates for frames, captions and legends
ov = fig.add_axes([0, 0, 1, 1], zorder=10)
ov.set_xlim(0, W)
ov.set_ylim(H, 0)
ov.axis("off")

frames = [(11, 5, 580, 412), (11, 422, 580, 828), (11, 837, 580, 1243)]
for x0, y0, x1, y1 in frames:
    ov.add_patch(Rectangle((x0, y0), x1 - x0, y1 - y0, fill=False, ec="#e2eaee", lw=1.0))

titles = ["Panel A", "Panel B", "Panel C"]
title_y = [23, 435, 852]
stats = ["R=-0.21, p<0.001", "R=0.48, p<0.001", "R=0.20, p<0.001"]
stats_y = [112, 520, 943]
ylabel_y = [163.5, 581, 997.5]
for t, ty, st, sy, ly in zip(titles, title_y, stats, stats_y, ylabel_y):
    ov.text(576, ty, t, ha="right", va="center", fontsize=12, color="#1a1a1a")
    ov.text(576, sy, st, ha="right", va="center", fontsize=12, color="#1a1a1a")
    ov.text(31.5, ly, "Szérum leptin szint (ng/ml)", rotation=90, ha="center",
            va="center", fontsize=11, color="#1a1a1a")

legends = [
    dict(box=(134, 354, 503, 402), rows=(369, 390), patch=(140, 194), text_x=204,
         line=(350, 404), dot_x=168, fit_label="Fitted values"),
    dict(box=(122, 772, 515, 818), rows=(784, 805), patch=(128, 183), text_x=191.5,
         line=(337, 392), dot_x=155, fit_label="Illesztett értékek"),
    dict(box=(122, 1187, 515, 1235), rows=(1203, 1221), patch=(128, 183), text_x=191.5,
         line=(337, 392), dot_x=155, fit_label="Illesztett értékek"),
]
for lg in legends:
    x0, y0, x1, y1 = lg["box"]
    r1, r2 = lg["rows"]
    ov.add_patch(Rectangle((x0, y0), x1 - x0, y1 - y0, fill=False, ec="#222222", lw=0.9))
    ov.add_patch(Rectangle((lg["patch"][0], r1 - 8), lg["patch"][1] - lg["patch"][0], 16,
                           color="#c0c0c0", lw=0))
    ov.text(lg["text_x"], r1, "95% CI", va="center", fontsize=10.3, color="#1a1a1a")
    ov.plot(lg["line"], [r1, r1], color="#111111", lw=1.3)
    ov.text(lg["line"][1] + 9, r1, lg["fit_label"], va="center", fontsize=10.3, color="#1a1a1a")
    ov.scatter([lg["dot_x"]], [r2], s=DOT, color="black", lw=0)
    ov.text(lg["text_x"], r2, "Leptin szint (ng/ml)", va="center", fontsize=10.3,
            color="#1a1a1a")

fig.savefig("out.png", dpi=100)
